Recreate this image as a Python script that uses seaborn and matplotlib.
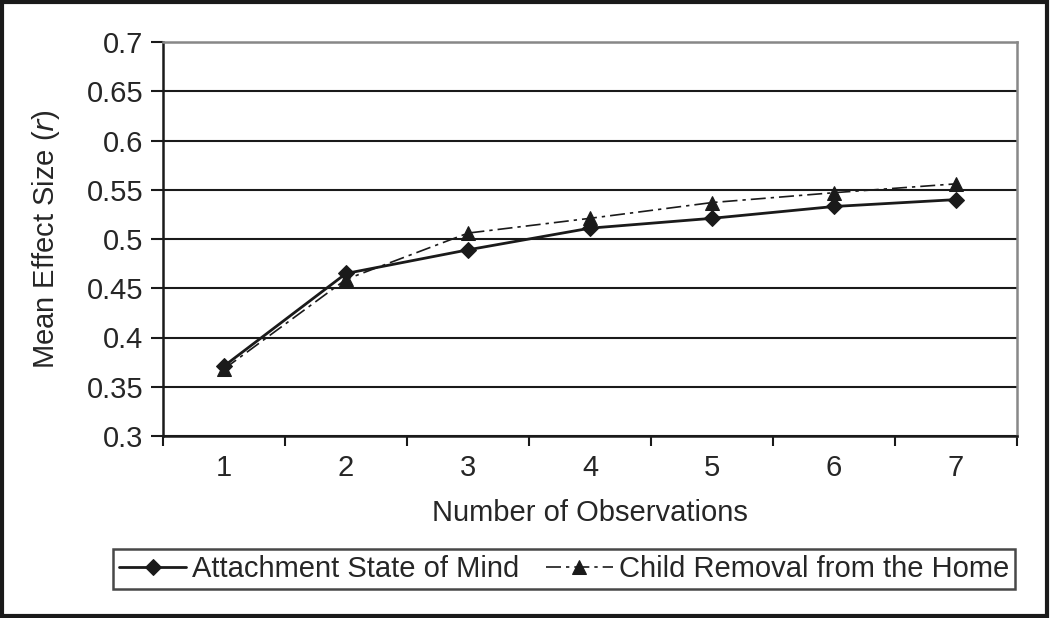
import matplotlib
matplotlib.use("Agg")
import matplotlib.pyplot as plt
import seaborn as sns
import pandas as pd

# values
observations = [1, 2, 3, 4, 5, 6, 7]
attachment = [0.371, 0.465, 0.489, 0.511, 0.521, 0.533, 0.540]
removal = [0.368, 0.459, 0.506, 0.521, 0.537, 0.547, 0.556]
yticks = [0.3, 0.35, 0.4, 0.45, 0.5, 0.55, 0.6, 0.65, 0.7]
ytick_labels = ["0.3", "0.35", "0.4", "0.45", "0.5", "0.55", "0.6", "0.65", "0.7"]

df = pd.DataFrame({"obs": observations, "att": attachment, "rem": removal})

sns.set_style("white")
plt.rcParams["font.family"] = ["Liberation Sans", "DejaVu Sans"]
FS = 21

fig = plt.figure(figsize=(10.5, 6.18), dpi=100)
ax = fig.add_axes([163 / 1050, 1 - 436 / 618, (1017 - 163) / 1050, (436 - 42) / 618])

sns.lineplot(data=df, x="obs", y="att", ax=ax, color="#1a1a1a", lw=2,
             marker="D", markersize=8, mec="#1a1a1a", label="Attachment State of Mind")
sns.lineplot(data=df, x="obs", y="rem", ax=ax, color="#1a1a1a", lw=1.2,
             marker="^", markersize=10, mec="#1a1a1a", dashes=False,
             label="Child Removal from the Home")
ax.lines[-1].set_dashes([9, 3, 2, 3])

ax.set_xlim(0.5, 7.5)
ax.set_ylim(0.3, 0.7)
ax.set_yticks(yticks)
ax.set_yticklabels(ytick_labels)
ax.set_xticks(observations)
ax.set_xticklabels([str(o) for o in observations])
ax.set_xticks([o - 0.5 for o in observations] + [7.5], minor=True)
ax.tick_params(axis="x", which="major", bottom=True, length=0, labelsize=FS, pad=13)
ax.tick_params(axis="x", which="minor", bottom=True, length=7, width=1.5, color="#1a1a1a",
               direction="out")
ax.tick_params(axis="y", left=True, length=9, width=1.5, color="#1a1a1a", direction="out",
               labelsize=FS, pad=5)
ax.yaxis.grid(True, color="#1a1a1a", lw=1.5)
ax.set_axisbelow(True)

for s in ["left", "bottom"]:
    ax.spines[s].set_color("#1a1a1a")
    ax.spines[s].set_linewidth(1.8)
for s in ["top", "right"]:
    ax.spines[s].set_color("#888888")
    ax.spines[s].set_linewidth(1.8)

ax.set_xlabel("Number of Observations", fontsize=FS, labelpad=12)
ax.set_ylabel("Mean Effect Size ($\\it{r}$)", fontsize=FS, labelpad=18)

ax.get_legend().remove()
h, l = ax.get_legend_handles_labels()
leg = fig.legend(h, l, loc="center", bbox_to_anchor=(564 / 1050, 1 - 569 / 618), ncol=2,
                 fontsize=FS, frameon=True, fancybox=False, edgecolor="#1a1a1a",
                 handlelength=2.3, handletextpad=0.2, columnspacing=0.9,
                 borderpad=0.2, borderaxespad=0)
leg.get_frame().set_linewidth(1.8)

# outer border of the figure
fig.patches.append(plt.Rectangle((0.002, 0.003), 0.995, 0.994, transform=fig.transFigure,
                                 fill=False, edgecolor="#1a1a1a", lw=3))

fig.savefig("out.png", dpi=100)
